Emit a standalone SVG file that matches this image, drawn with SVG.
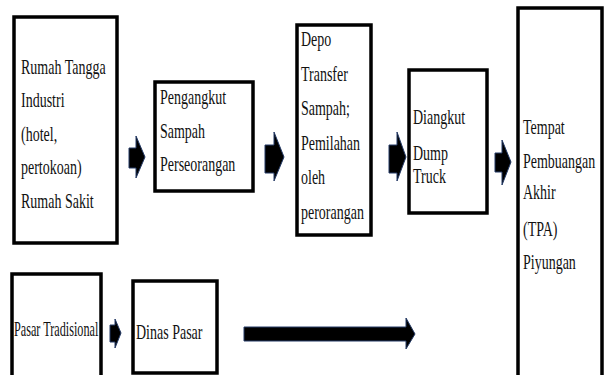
<svg xmlns="http://www.w3.org/2000/svg" width="607" height="375" viewBox="0 0 607 375">
<style>
.box{fill:#fff;stroke:#000;stroke-width:3.5}
.t{font-size:20px;fill:#111}
.arr{fill:#000;stroke:#243a66;stroke-width:1;stroke-linejoin:miter}
</style>
<rect width="607" height="375" fill="#fff"/>
<g id="n-rumah">
<rect class="box" x="14" y="17" width="103" height="226"/>
<text class="t" font-family="'Liberation Serif', 'DejaVu Serif', serif" transform="translate(21,0) scale(0.7,1)"><tspan x="0" y="74">Rumah Tangga</tspan><tspan x="0" y="107">Industri</tspan><tspan x="0" y="141">(hotel,</tspan><tspan x="0" y="174">pertokoan)</tspan><tspan x="0" y="208">Rumah Sakit</tspan></text>
</g>
<g id="n-pengangkut">
<rect class="box" x="155" y="82" width="98" height="109"/>
<text class="t" font-family="'Liberation Serif', 'DejaVu Serif', serif" transform="translate(160,0) scale(0.7,1)"><tspan x="0" y="104">Pengangkut</tspan><tspan x="0" y="138">Sampah</tspan><tspan x="0" y="171">Perseorangan</tspan></text>
</g>
<g id="n-depo">
<rect class="box" x="297" y="25" width="74" height="210"/>
<text class="t" font-family="'Liberation Serif', 'DejaVu Serif', serif" transform="translate(301,0) scale(0.7,1)"><tspan x="0" y="46">Depo</tspan><tspan x="0" y="81">Transfer</tspan><tspan x="0" y="115">Sampah;</tspan><tspan x="0" y="150">Pemilahan</tspan><tspan x="0" y="184">oleh</tspan><tspan x="0" y="219">perorangan</tspan></text>
</g>
<g id="n-diangkut">
<rect class="box" x="409" y="70" width="78" height="143"/>
<text class="t" font-family="'Liberation Serif', 'DejaVu Serif', serif" transform="translate(413,0) scale(0.7,1)"><tspan x="0" y="124">Diangkut</tspan><tspan x="0" y="160">Dump</tspan><tspan x="0" y="183">Truck</tspan></text>
</g>
<g id="n-tpa">
<rect class="box" x="518" y="8" width="84" height="380"/>
<text class="t" font-family="'Liberation Serif', 'DejaVu Serif', serif" transform="translate(523,0) scale(0.7,1)"><tspan x="0" y="134">Tempat</tspan><tspan x="0" y="168">Pembuangan</tspan><tspan x="0" y="199">Akhir</tspan><tspan x="0" y="236">(TPA)</tspan><tspan x="0" y="269">Piyungan</tspan></text>
</g>
<g id="n-pasar">
<rect class="box" x="12" y="274" width="89" height="120"/>
<text class="t" font-family="'Liberation Serif', 'DejaVu Serif', serif" transform="translate(14,0) scale(0.61,1)"><tspan x="0" y="336">Pasar Tradisional</tspan></text>
</g>
<g id="n-dinas">
<rect class="box" x="133" y="281" width="84" height="92"/>
<text class="t" font-family="'Liberation Serif', 'DejaVu Serif', serif" transform="translate(136,0) scale(0.7,1)"><tspan x="0" y="339">Dinas Pasar</tspan></text>
</g>
<g id="connectors">
<path class="arr" d="M129,148 H136 V136 L145,157 L136,178 V168 H129 Z"/>
<path class="arr" d="M265,145 H274 V132 L284,157 L274,181 V173 H265 Z"/>
<path class="arr" d="M389,145 H397 V132 L406,157 L397,181 V173 H389 Z"/>
<path class="arr" d="M495,153 H502 V140 L511,162 L502,185 V172 H495 Z"/>
<path class="arr" d="M110,325 H115 V319 L121,333 L115,348 V342 H110 Z"/>
<path class="arr" d="M244,327 H406 V318 L415,334 L406,349 V341 H244 Z"/>
</g>
</svg>
